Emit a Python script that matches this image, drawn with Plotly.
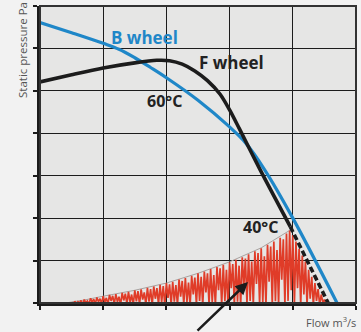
import plotly.graph_objects as go

# ---- data (flow units 0..5, pressure units 0..7) ----
b_flow = [0, 0.5, 1.0, 1.25, 1.5, 1.75, 2.0, 2.5, 3.0, 3.25, 3.55, 4.0, 4.7]
b_pres = [6.61, 6.37, 6.12, 5.98, 5.78, 5.55, 5.31, 4.78, 4.15, 3.78, 3.15, 2.0, 0]

f_flow = [0, 0.5, 1.0, 1.5, 1.85, 2.05, 2.25, 2.45, 2.65, 2.85, 3.0, 3.15, 3.48, 3.96]
f_pres = [5.21, 5.38, 5.54, 5.66, 5.72, 5.71, 5.63, 5.47, 5.24, 4.92, 4.55, 4.12, 3.15, 1.80]

f_dash_flow = [3.96, 4.56]
f_dash_pres = [1.80, 0]

env_flow = [0.4, 0.7, 1.0, 1.5, 2.0, 2.5, 3.0, 3.5, 3.96]
env_pres = [0, 0.07, 0.16, 0.30, 0.47, 0.70, 0.97, 1.30, 1.72]

noise_flow = [
    0.50, 0.525, 0.55, 0.575, 0.60, 0.625, 0.65, 0.675, 0.70, 0.725,
    0.75, 0.775, 0.80, 0.825, 0.85, 0.875, 0.90, 0.925, 0.95, 0.975,
    1.00, 1.025, 1.05, 1.075, 1.10, 1.125, 1.15, 1.175, 1.20, 1.225,
    1.25, 1.275, 1.30, 1.325, 1.35, 1.375, 1.40, 1.425, 1.45, 1.475,
    1.50, 1.525, 1.55, 1.575, 1.60, 1.625, 1.65, 1.675, 1.70, 1.725,
    1.75, 1.775, 1.80, 1.825, 1.85, 1.875, 1.90, 1.925, 1.95, 1.975,
    2.00, 2.025, 2.05, 2.075, 2.10, 2.125, 2.15, 2.175, 2.20, 2.225,
    2.25, 2.275, 2.30, 2.325, 2.35, 2.375, 2.40, 2.425, 2.45, 2.475,
    2.50, 2.525, 2.55, 2.575, 2.60, 2.625, 2.65, 2.675, 2.70, 2.725,
    2.75, 2.775, 2.80, 2.825, 2.85, 2.875, 2.90, 2.925, 2.95, 2.975,
    3.00, 3.025, 3.05, 3.075, 3.10, 3.125, 3.15, 3.175, 3.20, 3.225,
    3.25, 3.275, 3.30, 3.325, 3.35, 3.375, 3.40, 3.425, 3.45, 3.475,
    3.50, 3.525, 3.55, 3.575, 3.60, 3.625, 3.65, 3.675, 3.70, 3.725,
    3.75, 3.775, 3.80, 3.825, 3.85, 3.875, 3.90, 3.925, 3.95, 3.975,
    4.00, 4.025, 4.05, 4.075, 4.10, 4.125, 4.15, 4.175, 4.20, 4.225,
    4.25, 4.275, 4.30, 4.325, 4.35, 4.375, 4.40, 4.425, 4.45, 4.475,
    4.50, 4.525, 4.55,
]
noise_pres = [
    0.02, -0.05, 0.04, -0.02, 0.03, 0.00, 0.06, -0.04, 0.08, 0.01,
    0.05, -0.03, 0.11, 0.02, 0.09, -0.02, 0.13, 0.03, 0.10, -0.01,
    0.16, 0.02, 0.12, -0.03, 0.19, 0.05, 0.17, -0.02, 0.21, 0.03,
    0.15, -0.04, 0.24, 0.06, 0.22, -0.02, 0.26, 0.02, 0.20, -0.05,
    0.30, 0.04, 0.28, -0.03, 0.32, 0.08, 0.25, -0.04, 0.36, 0.03,
    0.33, -0.05, 0.39, 0.10, 0.35, -0.03, 0.43, 0.02, 0.40, -0.05,
    0.47, 0.12, 0.44, -0.04, 0.50, 0.03, 0.42, -0.05, 0.55, 0.15,
    0.52, -0.03, 0.59, 0.02, 0.48, -0.06, 0.64, 0.20, 0.60, -0.04,
    0.70, 0.05, 0.62, -0.05, 0.74, 0.25, 0.70, -0.03, 0.80, 0.02,
    0.66, -0.06, 0.85, 0.30, 0.82, -0.04, 0.90, 0.04, 0.78, -0.05,
    0.96, 0.35, 0.92, -0.04, 1.02, 0.03, 0.88, -0.06, 1.08, 0.40,
    1.05, -0.03, 1.15, 0.05, 0.98, -0.05, 1.22, 0.45, 1.18, -0.04,
    1.29, 0.02, 1.10, -0.06, 1.37, 0.50, 1.33, -0.03, 1.45, 0.04,
    1.25, -0.05, 1.54, 0.55, 1.50, -0.04, 1.64, 0.05, 1.71, 0.30,
    1.60, -0.04, 1.45, 0.35, 1.28, -0.05, 1.12, 0.20, 0.98, -0.04,
    0.78, 0.10, 0.62, -0.05, 0.47, 0.05, 0.33, -0.04, 0.20, 0.02,
    0.08, -0.03, 0.00,
]

DARK = "#1c1c1c"
BLUE = "#1f87c8"
RED = "#e03c28"

fig = go.Figure()
fig.add_trace(go.Scatter(x=env_flow, y=env_pres, mode="lines",
                         line=dict(color="#a8a2a0", width=1), hoverinfo="skip"))
fig.add_trace(go.Scatter(x=noise_flow, y=noise_pres, mode="lines",
                         line=dict(color=RED, width=1.7), hoverinfo="skip"))
fig.add_trace(go.Scatter(x=b_flow, y=b_pres, mode="lines",
                         line=dict(color=BLUE, width=3.2, shape="spline", smoothing=1.0)))
fig.add_trace(go.Scatter(x=f_flow, y=f_pres, mode="lines",
                         line=dict(color=DARK, width=3.6, shape="spline", smoothing=0.8)))
fig.add_trace(go.Scatter(x=f_dash_flow, y=f_dash_pres, mode="lines",
                         line=dict(color=DARK, width=3.6, dash="6px,3px")))

axis_common = dict(showline=True, linewidth=3, linecolor=DARK, ticks="outside",
                   ticklen=4, tickwidth=2, tickcolor=DARK, showticklabels=False,
                   showgrid=True, gridcolor=DARK, gridwidth=1.3, zeroline=False,
                   dtick=1, tick0=0, fixedrange=True)

fig.update_layout(
    width=361, height=332,
    margin=dict(l=40, r=5, t=6, b=29),
    paper_bgcolor="#f2f2f2", plot_bgcolor="#e6e6e5",
    showlegend=False,
    xaxis=dict(range=[0, 5], **axis_common),
    yaxis=dict(range=[0, 7], **axis_common),
    shapes=[dict(type="rect", xref="paper", yref="paper", x0=0, x1=1, y0=0, y1=1,
                 line=dict(color="#333333", width=2), layer="above")],
    annotations=[
        dict(text="B wheel", x=(109 - 40) / 63.2, y=(303 - 37) / 42.43, xref="x", yref="y",
             xanchor="left", yanchor="middle", showarrow=False,
             font=dict(family="Open Sans", size=17, color=BLUE, weight="bold")),
        dict(text="F wheel", x=(197 - 40) / 63.2, y=(303 - 62) / 42.43, xref="x", yref="y",
             xanchor="left", yanchor="middle", showarrow=False,
             font=dict(family="Open Sans", size=17, color="#222222", weight="bold")),
        dict(text="60°C", x=(145 - 40) / 63.2, y=(303 - 101) / 42.43, xref="x", yref="y",
             xanchor="left", yanchor="middle", showarrow=False,
             font=dict(family="Open Sans", size=16, color="#222222", weight="bold")),
        dict(text="40°C", x=(241 - 40) / 63.2, y=(303 - 227) / 42.43, xref="x", yref="y",
             xanchor="left", yanchor="middle", showarrow=False,
             font=dict(family="Open Sans", size=16, color="#222222", weight="bold")),
        dict(text="Static pressure Pa", x=(22 - 40) / 316, y=(303 - 50) / 297,
             xref="paper", yref="paper",
             showarrow=False, textangle=-90, xanchor="center", yanchor="middle",
             font=dict(family="Open Sans", size=11.5, color="#555555")),
        dict(text="Flow m<sup>3</sup>/s", x=(358 - 40) / 316, y=-(322 - 303) / 297,
             xref="paper", yref="paper", xanchor="right", yanchor="middle", showarrow=False,
             font=dict(family="Open Sans", size=11, color="#555555")),
        dict(text="", x=(248 - 40) / 63.2, y=(303 - 282) / 42.43, xref="x", yref="y",
             showarrow=True, arrowhead=2, arrowsize=1, arrowwidth=2.5, arrowcolor=DARK,
             ax=-52, ay=54, axref="pixel", ayref="pixel"),
    ],
)

fig.write_html("out.html")
